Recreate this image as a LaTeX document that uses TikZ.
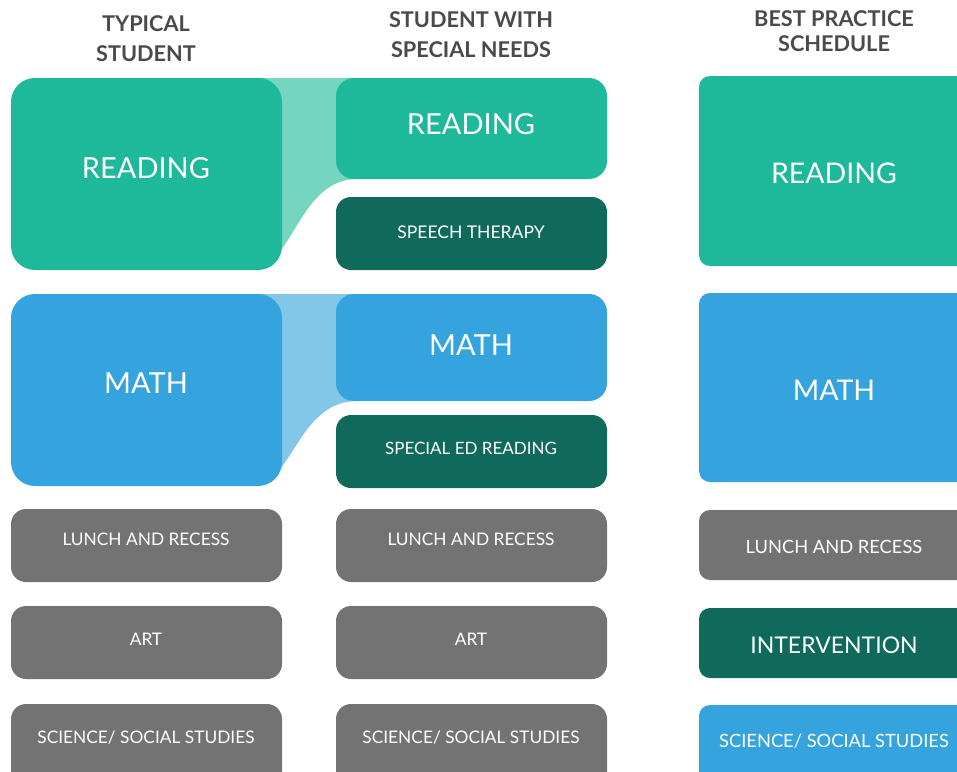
\documentclass[tikz,border=0pt]{standalone}
\usepackage{fontspec}
\setmainfont{Lato}
\usetikzlibrary{calc,backgrounds}
\definecolor{cteal}{HTML}{1DB99A}
\definecolor{cltteal}{HTML}{76D5C0}
\definecolor{cdark}{HTML}{0F6A5C}
\definecolor{cblue}{HTML}{35A4DE}
\definecolor{cltblue}{HTML}{82C6E8}
\definecolor{cgray}{HTML}{737373}
\definecolor{chead}{HTML}{4A4A4A}
\begin{document}
\begin{tikzpicture}[x=1pt,y=-1pt,
  box/.style={rectangle, inner sep=0pt, outer sep=0pt, anchor=north west},
  wide/.style={box, minimum width=271pt, rounded corners=24pt},
  slim/.style={box, minimum width=271pt, minimum height=73pt, rounded corners=15pt},
  sched/.style={box, minimum width=300pt, rounded corners=11pt},
  lbl/.style={text=white, inner sep=0pt},
  big/.style={lbl, font=\fontsize{29}{30}\selectfont},
  small/.style={lbl, font=\fontsize{17.3}{18}\selectfont},
  mid/.style={lbl, font=\fontsize{17.5}{18}\selectfont},
  side/.style={lbl, font=\fontsize{18.3}{20}\selectfont},
  hdr/.style={text=chead, inner sep=0pt, align=center, font=\bfseries\fontsize{21.7}{30}\selectfont}]
\useasboundingbox (0,0) rectangle (957,771);
\clip (0,0) rectangle (957,771);

% column headings
\node[hdr] (h1) at (146,39) {TYPICAL\\STUDENT};
\node[hdr] (h2) at (471,35) {STUDENT WITH\\SPECIAL NEEDS};
\node[hdr, font=\bfseries\fontsize{21.7}{25}\selectfont] (h3) at (834,31) {BEST PRACTICE\\SCHEDULE};

% typical student
\node[wide, fill=cteal, minimum height=192pt] (a1) at (11,78) {};
\node[wide, fill=cblue, minimum height=192pt] (a2) at (11,294) {};
\node[slim, fill=cgray] (a3) at (11,509) {};
\node[slim, fill=cgray] (a4) at (11,606) {};
\node[slim, fill=cgray, minimum height=90pt] (a5) at (11,704) {};
\node[big] (ta1) at (146,168) {READING};
\node[big] (ta2) at (146,383) {MATH};
\node[small] (ta3) at (146,539) {LUNCH AND RECESS};
\node[small] (ta4) at (146,639) {ART};
\node[small] (ta5) at (146,738) {SCIENCE/ SOCIAL STUDIES};

% student with special needs
\node[box, fill=cteal, minimum width=271pt, minimum height=101pt, rounded corners=18pt] (b1) at (336,78) {};
\node[slim, fill=cdark] (b2) at (336,197) {};
\node[box, fill=cblue, minimum width=271pt, minimum height=107pt, rounded corners=18pt] (b3) at (336,294) {};
\node[slim, fill=cdark] (b4) at (336,415) {};
\node[slim, fill=cgray] (b5) at (336,509) {};
\node[slim, fill=cgray] (b6) at (336,606) {};
\node[slim, fill=cgray, minimum height=90pt] (b7) at (336,704) {};
\node[big] (tb1) at (471,124) {READING};
\node[mid] (tb2) at (471,232) {SPEECH THERAPY};
\node[big] (tb3) at (471,345) {MATH};
\node[lbl, font=\fontsize{17}{18}\selectfont] (tb4) at (471,448) {SPECIAL ED READING};
\node[small] (tb5) at (471,539) {LUNCH AND RECESS};
\node[small] (tb6) at (471,639) {ART};
\node[small] (tb7) at (471,738) {SCIENCE/ SOCIAL STUDIES};

% best practice schedule
\node[sched, fill=cteal, minimum height=190pt] (c1) at (699,76) {};
\node[sched, fill=cblue, minimum height=189pt] (c2) at (699,293) {};
\node[sched, fill=cgray, minimum height=70pt] (c3) at (699,510) {};
\node[sched, fill=cdark, minimum height=70pt] (c4) at (699,608) {};
\node[sched, fill=cblue, minimum height=90pt] (c5) at (699,705) {};
\node[big, font=\fontsize{28.5}{30}\selectfont] (tc1) at (834,173) {READING};
\node[big, font=\fontsize{28.5}{30}\selectfont] (tc2) at (834,390) {MATH};
\node[side] (tc3) at (834,547) {LUNCH AND RECESS};
\node[lbl, font=\fontsize{23}{24}\selectfont] (tc4) at (834,645) {INTERVENTION};
\node[side] (tc5) at (834,741) {SCIENCE/ SOCIAL STUDIES};

% ribbons joining the shortened blocks to the full ones
\begin{scope}[on background layer]
  \fill[cltteal] ($(a1.north east)+(-30,0)$) -- ($(b1.north west)+(30,0)$)
    -- ($(b1.south west)+(20,0)$)
    .. controls +(-41,1) and +(19,-25) .. ($(a1.south east)+(-1,-20)$)
    -- ($(a1.south east)+(-30,-20)$) -- cycle;
  \fill[cltblue] ($(a2.north east)+(-30,0)$) -- ($(b3.north west)+(30,0)$)
    -- ($(b3.south west)+(20,0)$)
    .. controls +(-41,1) and +(19,-25) .. ($(a2.south east)+(-1,-18)$)
    -- ($(a2.south east)+(-30,-18)$) -- cycle;
\end{scope}
\end{tikzpicture}
\end{document}
